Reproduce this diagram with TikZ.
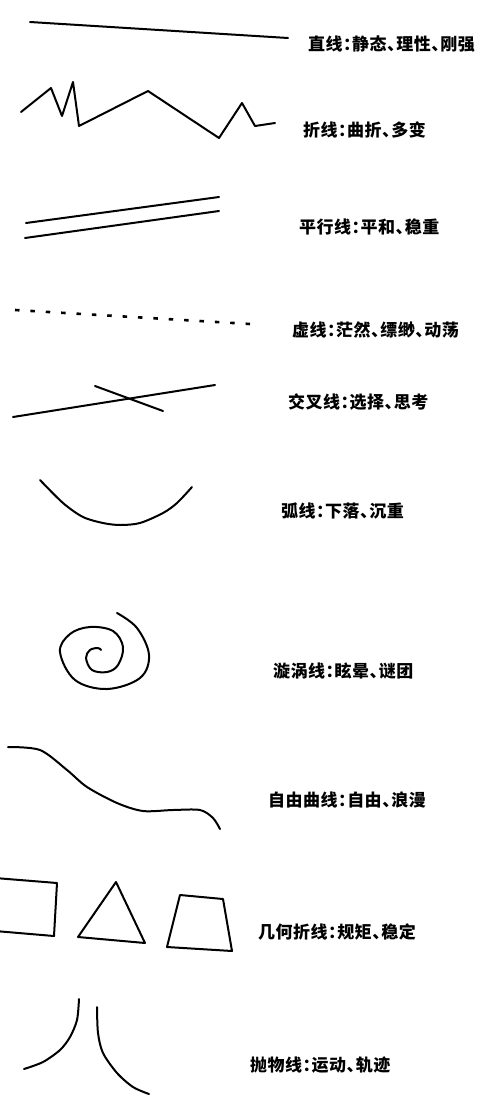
\documentclass[tikz,border=0pt]{standalone}
\usepackage{fontspec}
\newfontfamily\cjk[LetterSpace=3,RawFeature=+halt]{Noto Sans CJK SC}
\begin{document}
\begin{tikzpicture}[x=1pt,y=-1pt,
  stroke/.style={line width=2pt,line join=round,line cap=round},
  label/.style={anchor=west,inner sep=0pt,font=\cjk\bfseries\fontsize{17}{17}\selectfont}]
\useasboundingbox (0,0) rectangle (496,1098);
% 1 straight line
\draw[stroke] (30,22) -- (288,38);
\node[label] (l1) at (308,44) {直线：静态、理性、刚强};
% 2 zigzag
\draw[stroke] (21,112) -- (51,88) -- (62,116) -- (73,82) -- (79,126) -- (148,91) -- (219,138) -- (242,103) -- (255,126) -- (275,123);
\node[label] (l2) at (303,130) {折线：曲折、多变};
% 3 parallel lines
\draw[stroke] (26,223) -- (219,197);
\draw[stroke] (25,238) -- (219,211);
\node[label] (l3) at (299,227) {平行线：平和、稳重};
% 4 dashed line
\draw[line width=2.6pt,dash pattern=on 4.5pt off 10.9pt] (15,310) -- (250,324);
\node[label] (l4) at (292,330) {虚线：茫然、缥缈、动荡};
% 5 crossing lines
\draw[stroke] (13,417) -- (215,385);
\draw[stroke] (95,386) -- (163,411);
\node[label] (l5) at (288,402) {交叉线：选择、思考};
% 6 arc
\draw[stroke] plot[smooth] coordinates {(40,480) (63,503) (83,517) (103,523) (120,525) (140,523) (163,513) (177,503) (192,487)};
\node[label] (l6) at (281,511) {弧线：下落、沉重};
% 7 spiral
\draw[stroke] plot[smooth,tension=0.6] coordinates {(117,613) (137,628) (149,655) (140,678) (107,689) (75,680) (60,652) (70,634) (90,627) (113,631) (123,647) (118,665) (107,672) (92,670) (86,658) (90,650) (98,648) (101,650)};
\node[label] (l7) at (273,671) {漩涡线：眩晕、谜团};
% 8 free curve
\draw[stroke] plot[smooth] coordinates {(8,747) (40,750) (67,770) (87,787) (117,803) (143,811) (173,810) (200,810) (213,818) (220,829)};
\node[label] (l8) at (268,800) {自由曲线：自由、浪漫};
% 9 geometric shapes
\draw[stroke] (-5,878) -- (57,883) -- (54,936) -- (-5,931);
\draw[stroke] (116,882) -- (78,937) -- (145,943) -- cycle;
\draw[stroke] (180,895) -- (223,899) -- (232,951) -- (167,947) -- cycle;
\node[label] (l9) at (258,932) {几何折线：规矩、稳定};
% 10 parabola
\draw[stroke] plot[smooth] coordinates {(79,999) (77,1020) (70,1037) (60,1050) (43,1062) (24,1069)};
\draw[stroke] plot[smooth] coordinates {(97,1007) (98,1033) (103,1053) (117,1073) (133,1087) (149,1094)};
\node[label] (l10) at (250,1065) {抛物线：运动、轨迹};
\end{tikzpicture}
\end{document}
